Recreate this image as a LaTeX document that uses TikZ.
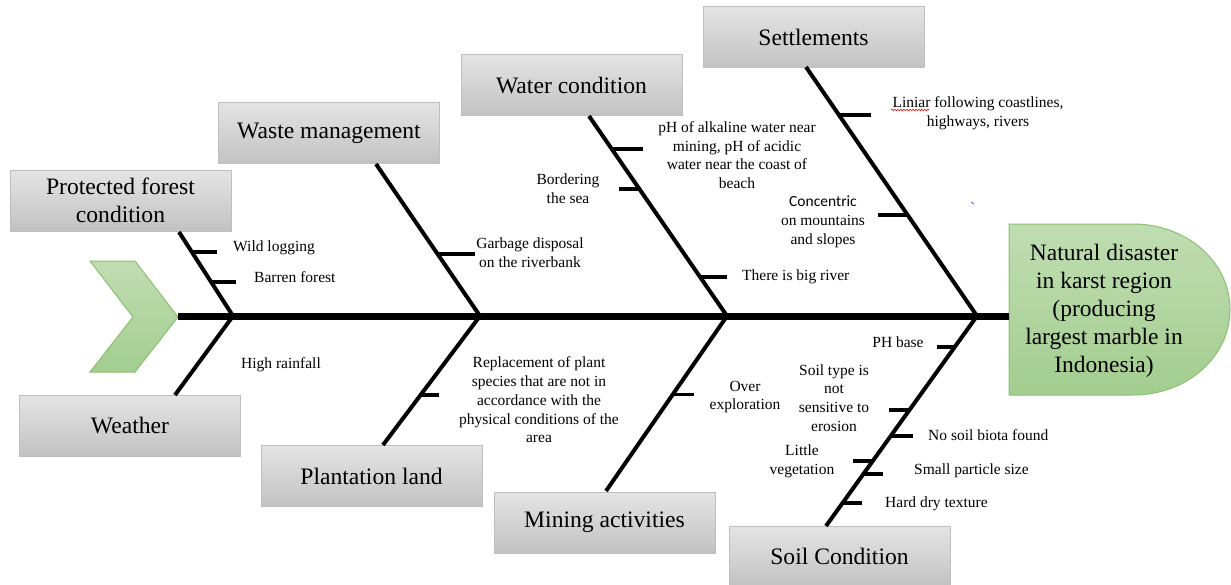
\documentclass[tikz,border=0pt]{standalone}
\usepackage{fontspec}
\setmainfont{Liberation Serif}
\newfontfamily\calibrifont{Carlito}
\usetikzlibrary{calc,decorations.pathmorphing}
\definecolor{boxtop}{RGB}{228,228,228}
\definecolor{boxbot}{RGB}{194,194,194}
\definecolor{boxline}{RGB}{190,190,190}
\definecolor{greentop}{RGB}{192,221,178}
\definecolor{greenbot}{RGB}{163,205,143}
\definecolor{greenline}{RGB}{140,192,112}
\begin{document}
\begin{tikzpicture}[x=1pt,y=-1pt,
  box/.style={draw=boxline, line width=1pt, top color=boxtop, bottom color=boxbot,
    minimum width=221pt, minimum height=61pt, inner sep=0pt, align=center,
    font=\fontsize{23.6}{28}\selectfont},
  lbl/.style={inner sep=0pt, align=center, font=\fontsize{15.5}{18.7}\selectfont},
  bone/.style={line width=4pt},
  tickln/.style={line width=3.5pt},
  spine/.style={line width=7pt},
  green/.style={draw=greenline, line width=1pt, top color=greentop, bottom color=greenbot}]
\useasboundingbox (0,0) rectangle (1231,584);
\clip (0,0) rectangle (1231,584);

% chevron tail
\path[green] (90,261) -- (135,261) -- (178,317) -- (135,372) -- (90,372) -- (133,317) -- cycle;
\coordinate (tail) at (178,316);

% head
\path[green] (1009,224) -- (1133,224) .. controls (1187,224) and (1230,262) .. (1230,309.5)
  .. controls (1230,357) and (1187,395) .. (1133,395) -- (1009,395) -- cycle;
\coordinate (headL) at (1009,316);
\node[inner sep=0pt, align=center, font=\fontsize{23.5}{28}\selectfont] (head) at (1104,311)
  {Natural disaster\\in karst region\\(producing\\largest marble in\\Indonesia)};

% boxes
\node[box] (forest) at (120.5,200.5) {Protected forest\\condition};
\node[box] (weather) at (130,425.5) {Weather};
\node[box] (waste) at (329,133) {Waste management};
\node[box] (water) at (571.5,85) {Water condition};
\node[box] (settle) at (813.5,37) {Settlements};
\node[box] (plant) at (371.5,476) {Plantation land};
\node[box] (mining) at (604.5,522.5) {Mining activities};
\node[box] (soil) at (839.5,556.5) {Soil Condition};

% junctions and bone ends
\coordinate (j1) at (233,316);
\coordinate (j2) at (480,316);
\coordinate (j3) at (727,316);
\coordinate (j4) at (977,316);
\coordinate (fEnd) at (179,232);
\coordinate (wEnd) at (175,395);
\coordinate (wmEnd) at (376,164);
\coordinate (plEnd) at (383,445);
\coordinate (wcEnd) at (589,116);
\coordinate (miEnd) at (606,491);
\coordinate (seEnd) at (806,67);
\coordinate (soEnd) at (826,526);

% spine
\draw[spine] (tail) -- (headL);

% bones
\draw[bone] (fEnd) -- (j1);
\draw[bone] (j1) -- (wEnd);
\draw[bone] (wmEnd) -- (j2);
\draw[bone] (j2) -- (plEnd);
\draw[bone] (wcEnd) -- (j3);
\draw[bone] (j3) -- (miEnd);
\draw[bone] (seEnd) -- (j4);
\draw[bone] (j4) -- (soEnd);

% ticks
\draw[tickln] ($(fEnd)!0.238!(j1)$) -- ++(25,0);
\draw[tickln] ($(fEnd)!0.595!(j1)$) -- ++(25,0);
\draw[tickln] ($(wmEnd)!0.592!(j2)$) -- ++(37,0);
\draw[tickln] ($(wcEnd)!0.165!(j3)$) -- ++(31,0);
\draw[tickln] ($(wcEnd)!0.365!(j3)$) ++(2,0) -- ++(-22,0);
\draw[tickln] ($(wcEnd)!0.805!(j3)$) -- ++(27,0);
\draw[tickln] ($(seEnd)!0.193!(j4)$) -- ++(32,0);
\draw[tickln] ($(seEnd)!0.594!(j4)$) -- ++(-30,0);
\draw[tickln] ($(j2)!0.612!(plEnd)$) -- ++(18,0);
\draw[tickln] ($(j3)!0.448!(miEnd)$) -- ++(21,0);
\draw[tickln] ($(j4)!0.148!(soEnd)$) -- ++(-18,0);
\draw[tickln] ($(j4)!0.448!(soEnd)$) -- ++(-20,0);
\draw[tickln] ($(j4)!0.571!(soEnd)$) -- ++(22,0);
\draw[tickln] ($(j4)!0.690!(soEnd)$) ++(1,0) -- ++(-21,0);
\draw[tickln] ($(j4)!0.752!(soEnd)$) -- ++(20,0);
\draw[tickln] ($(j4)!0.890!(soEnd)$) -- ++(19,0);

% labels
\node[lbl, anchor=west] (l1) at (233,248) {Wild logging};
\node[lbl, anchor=west] (l2) at (254,277) {Barren forest};
\node[lbl, anchor=west] (l3) at (241,365) {High rainfall};
\node[lbl] (l4) at (530,252.5) {Garbage disposal\\on the riverbank};
\node[lbl] (l5) at (737,155) {pH of alkaline water near\\mining, pH of acidic\\water near the coast of\\beach};
\node[lbl] (l6) at (568,188.5) {Bordering\\the sea};
\node[lbl, anchor=west] (l7) at (742,277) {There is big river};
\node[lbl] (l8) at (978,113) {Liniar following coastlines,\\highways, rivers};
\node[lbl] (l9) at (823,222) {{\calibrifont Concentric}\\on mountains\\and slopes};
\node[lbl] (l10) at (539,400) {Replacement of plant\\species that are not in\\accordance with the\\physical conditions of the\\area};
\node[lbl] (l11) at (745,397) {Over\\exploration};
\node[lbl] (l12) at (898,342) {PH base};
\node[lbl] (l13) at (834,398) {Soil type is\\not\\sensitive to\\erosion};
\node[lbl, anchor=west] (l14) at (928,435) {No soil biota found};
\node[lbl] (l15) at (802,461.5) {Little\\vegetation};
\node[lbl, anchor=west] (l16) at (914,471) {Small particle size};
\node[lbl, anchor=west] (l17) at (885,504) {Hard dry texture};

% spell-check underline and stray mark
\draw[red, line width=0.6pt, decorate, decoration={snake, amplitude=0.8pt, segment length=3pt}] (891,110) -- (929,110);
\draw[blue!70, line width=0.8pt] (971,202) -- (974,204);
\end{tikzpicture}
\end{document}
